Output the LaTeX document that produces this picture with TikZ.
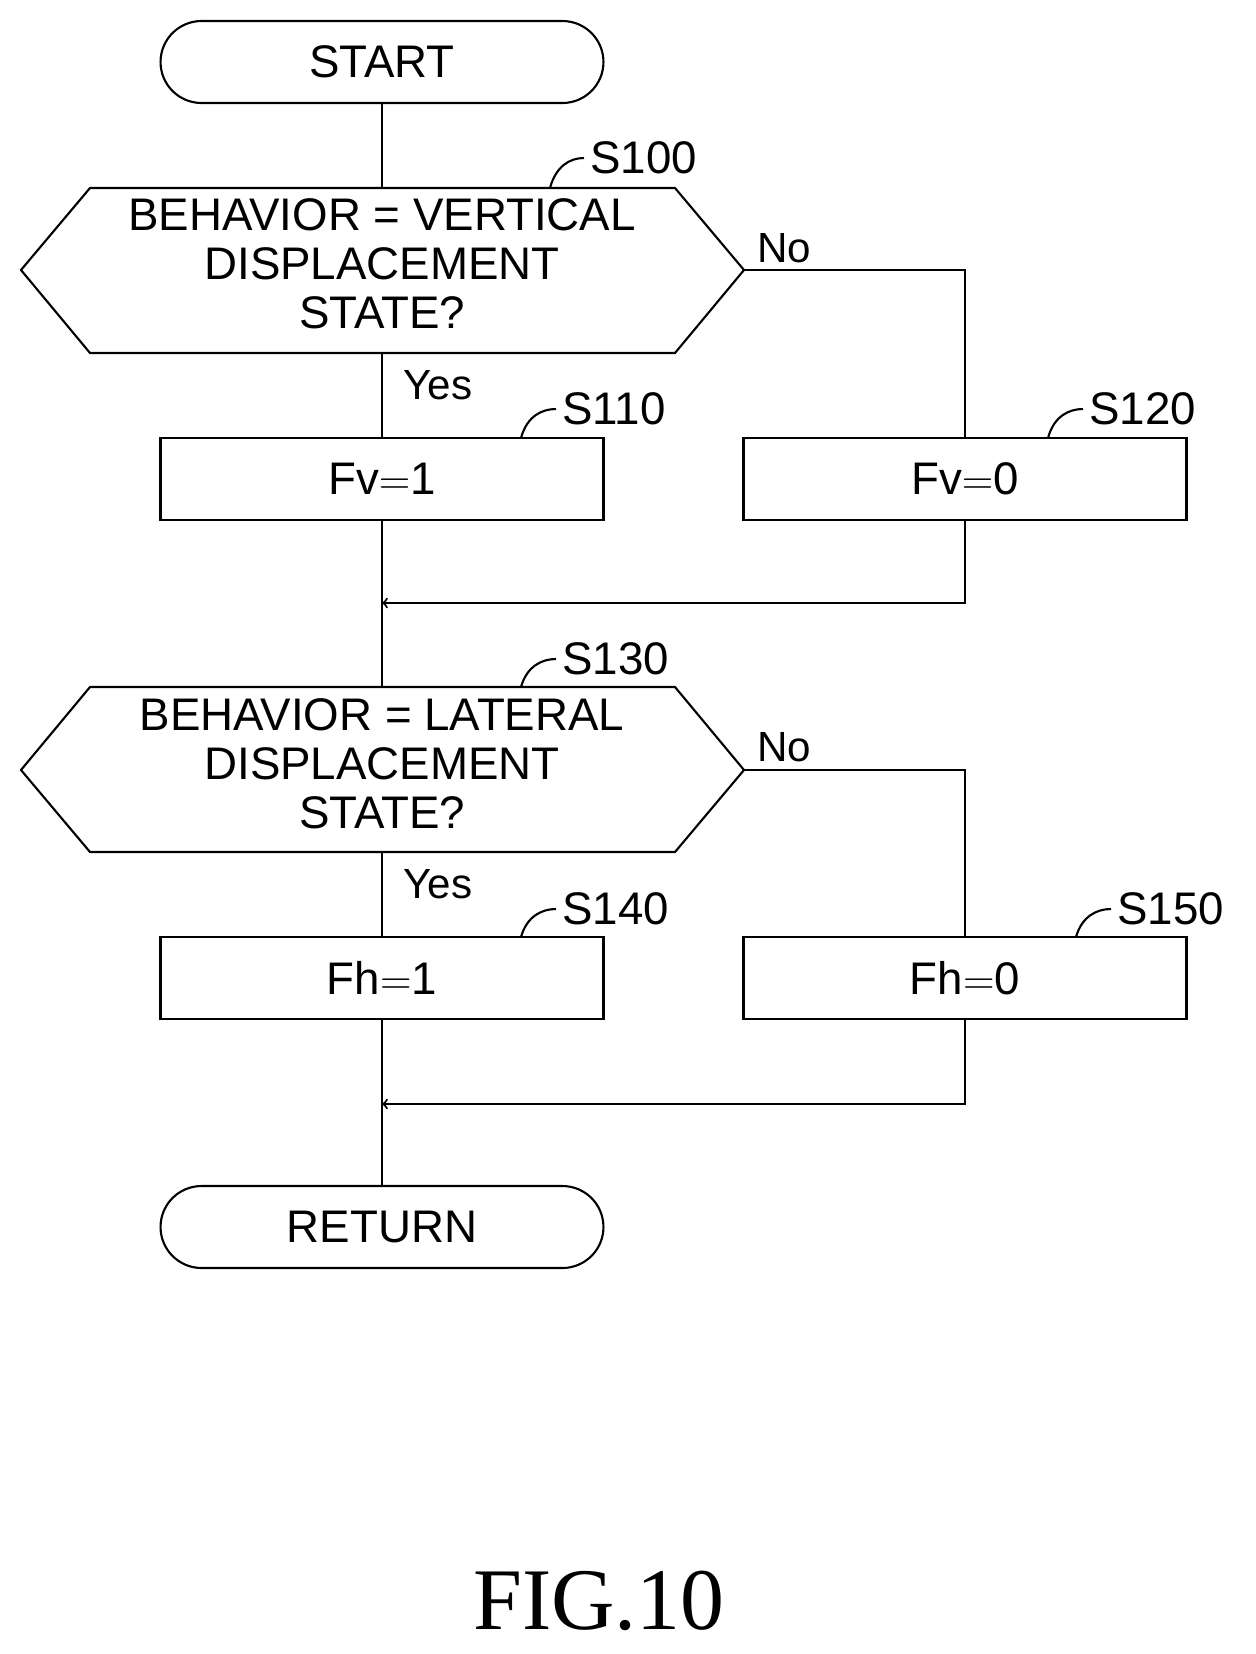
\documentclass[tikz,border=0pt]{standalone}
\usepackage{fontspec}
\setmainfont{Liberation Sans}
\usepackage{tikz}
\usetikzlibrary{arrows, positioning, calc}
\tikzstyle{arrow} = [line width=1.2pt,->,>=to]
\tikzstyle{line} = [line width=1.2pt]
\tikzstyle{term} = [draw, line width=1.2pt, rounded corners=0.82cm, minimum width=8.86cm, minimum height=1.64cm, font=\fontsize{26}{28}\selectfont]
\tikzstyle{proc} = [draw, line width=1.2pt, minimum width=8.86cm, minimum height=1.64cm, font=\fontsize{26}{28}\selectfont]
\tikzstyle{txt} = [align=center, font=\fontsize{26}{28}\selectfont]
\tikzstyle{steplabel} = [anchor=west, font=\fontsize{26}{28}\selectfont]
\tikzstyle{yn} = [font=\fontsize{24}{26}\selectfont]

\begin{document}
\begin{tikzpicture}[x=0.02cm,y=-0.02cm]
\useasboundingbox (0,0) rectangle (1256,1654);

% Start
\node[term] (start) at (382,62) {START};

% Decision S100
\coordinate (d1w) at (21,270);
\coordinate (d1e) at (744,270);
\draw[line] (d1w) -- (90,188) -- (675,188) -- (d1e) -- (675,353) -- (90,353) -- cycle;
\node[txt] (d1) at (382,264) {BEHAVIOR = VERTICAL\\DISPLACEMENT\\STATE?};
\coordinate (d1n) at (382,188);
\coordinate (d1s) at (382,353);
\node[steplabel] (s100) at (584,158) {S100};
\draw[line] (550,188) .. controls (556,166) and (570,158) .. (s100.west);

% Boxes S110 / S120
\node[proc] (fv1) at (382,479) {Fv${=}$1};
\node[proc] (fv0) at (965,479) {Fv${=}$0};
\node[steplabel] (s110) at (556,409) {S110};
\draw[line] (521,438) .. controls (527,416) and (542,409) .. (s110.west);
\node[steplabel] (s120) at (1083,409) {S120};
\draw[line] (1048,438) .. controls (1054,416) and (1069,409) .. (s120.west);

\node[yn] (no1) at (784,248) {No};
\node[yn] (yes1) at (438,385) {Yes};

\draw[line] (start) -- (d1n);
\draw[line] (d1s) -- (fv1);
\draw[line] (d1e) -| (fv0);

% Merge 1
\coordinate (m1) at (382,603);
\draw[arrow] (fv0.south) |- (m1);

% Decision S130
\coordinate (d2w) at (21,770);
\coordinate (d2e) at (744,770);
\draw[line] (d2w) -- (90,687) -- (675,687) -- (d2e) -- (675,852) -- (90,852) -- cycle;
\node[txt] (d2) at (382,764) {BEHAVIOR = LATERAL\\DISPLACEMENT\\STATE?};
\coordinate (d2n) at (382,687);
\coordinate (d2s) at (382,852);
\node[steplabel] (s130) at (556,659) {S130};
\draw[line] (521,687) .. controls (527,666) and (542,659) .. (s130.west);
\draw[line] (fv1) -- (d2n);

% Boxes S140 / S150
\node[proc] (fh1) at (382,978) {Fh${=}$1};
\node[proc] (fh0) at (965,978) {Fh${=}$0};
\node[steplabel] (s140) at (556,909) {S140};
\draw[line] (521,937) .. controls (527,916) and (542,909) .. (s140.west);
\node[steplabel] (s150) at (1111,909) {S150};
\draw[line] (1076,937) .. controls (1082,916) and (1097,909) .. (s150.west);

\node[yn] (no2) at (784,747) {No};
\node[yn] (yes2) at (438,884) {Yes};

\draw[line] (d2s) -- (fh1);
\draw[line] (d2e) -| (fh0);

% Merge 2
\coordinate (m2) at (382,1104);
\draw[arrow] (fh0.south) |- (m2);

% Return
\node[term] (ret) at (382,1227) {RETURN};
\draw[line] (fh1) -- (ret);

\node[font=\fontsize{50}{54}\selectfont\fontspec{Liberation Serif}] (fig) at (599,1601) {FIG.10};
\end{tikzpicture}
\end{document}
